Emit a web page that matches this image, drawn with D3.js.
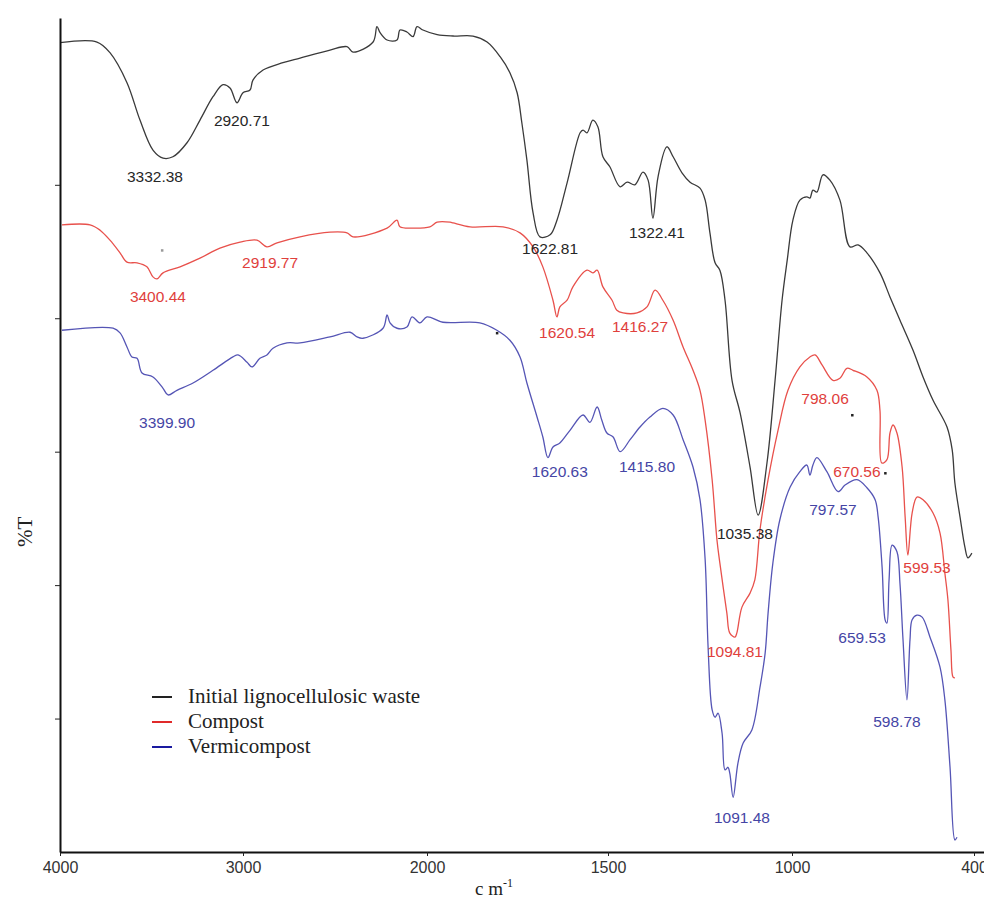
<!DOCTYPE html>
<html>
<head>
<meta charset="utf-8">
<script src="https://cdn.jsdelivr.net/npm/d3@7"></script>
<style>
  html, body { margin: 0; padding: 0; background: #fff; }
  svg { display: block; }
</style>
</head>
<body>
<svg id="chart" width="984" height="903"></svg>
<script>
// axis ticks (cm-1) as labelled on the original, not evenly spaced
var xTicks = [4000, 3000, 2000, 1500, 1000, 400];
var yTicks = [20, 40, 60, 80, 100];

// spectra: [wavenumber, %T]
var initialWaste = [
  [4000,121.3],[3798,121.4],[3727,119.8],[3634,115.3],[3563,109.7],[3492,105.2],[3437,104.0],[3383,104.2],
  [3306,106.3],[3235,109.7],[3164,113.2],[3109,115.0],[3071,114.5],[3033,112.3],[3000,113.8],[2962,114.2],
  [2946,115.7],[2891,117.2],[2783,118.3],[2690,119.0],[2527,120.2],[2435,120.7],[2402,119.9],[2293,121.4],
  [2272,123.7],[2255,122.8],[2217,121.7],[2163,121.7],[2147,123.2],[2109,122.9],[2076,122.2],[2054,123.7],
  [2022,123.2],[1972,122.5],[1928,122.3],[1873,122.3],[1834,121.4],[1798,119.2],[1771,116.8],[1751,113.8],
  [1738,109.3],[1724,103.7],[1707,95.8],[1688,92.2],[1660,92.5],[1641,94.7],[1613,100.3],[1577,107.8],
  [1569,108.2],[1558,107.8],[1542,109.7],[1528,108.7],[1514,104.2],[1495,102.7],[1467,99.7],[1448,100.4],
  [1427,100.0],[1405,101.9],[1391,100.7],[1378,95.0],[1364,101.2],[1340,105.7],[1323,104.2],[1299,101.8],
  [1277,100.4],[1250,99.5],[1236,97.7],[1223,92.8],[1209,88.3],[1196,87.2],[1182,82.7],[1163,70.7],
  [1141,65.8],[1114,57.7],[1092,50.5],[1068,58.3],[1046,70.7],[1027,82.7],[1013,88.7],[997,94.7],
  [974,97.7],[951,98.2],[941,98.0],[931,99.2],[918,98.9],[898,101.5],[875,100.7],[842,97.7],
  [809,90.7],[782,91.0],[753,89.8],[710,86.8],[677,83.2],[644,79.7],[601,75.2],[568,71.2],
  [535,67.7],[489,63.7],[472,60.3],[463,55.3],[446,50.2],[430,45.7],[420,44.1],[407,44.8]
];

var compost = [
  [3989,94.0],[3836,94.0],[3781,93.2],[3727,91.7],[3672,89.8],[3634,88.4],[3579,88.3],[3525,87.7],
  [3492,86.2],[3470,85.9],[3437,86.8],[3344,87.7],[3235,89.0],[3126,90.5],[3016,91.4],[2924,91.7],
  [2870,90.7],[2815,91.3],[2690,92.2],[2527,92.9],[2435,92.8],[2402,92.2],[2217,93.5],[2163,94.7],
  [2147,93.7],[2076,93.5],[1992,93.7],[1972,94.4],[1936,94.4],[1928,94.3],[1881,93.7],[1790,93.7],
  [1743,92.8],[1707,90.7],[1680,87.7],[1652,82.7],[1641,80.2],[1633,81.7],[1613,82.7],[1597,84.7],
  [1558,87.2],[1542,86.8],[1530,87.2],[1514,84.7],[1489,82.7],[1476,81.2],[1459,80.8],[1421,80.8],
  [1394,81.7],[1372,84.2],[1351,82.7],[1323,79.7],[1296,75.7],[1269,72.2],[1250,69.2],[1236,64.7],
  [1217,55.8],[1204,46.8],[1196,43.3],[1177,35.8],[1169,32.8],[1155,32.2],[1150,32.8],[1136,36.7],
  [1114,38.8],[1101,40.8],[1087,48.3],[1065,55.8],[1038,63.2],[1011,69.2],[974,72.7],[941,74.2],
  [924,74.5],[901,73.0],[865,70.7],[842,71.0],[819,72.5],[799,72.2],[753,71.2],[720,69.2],
  [710,66.2],[704,58.3],[687,58.8],[677,62.8],[667,64.0],[654,62.8],[637,57.7],[627,50.2],
  [618,44.5],[604,50.8],[588,53.2],[568,52.8],[535,50.8],[512,47.8],[496,41.8],[486,37.8],
  [476,30.3],[469,26.2],[463,26.1]
];

var vermicompost = [
  [3989,78.2],[3710,78.5],[3672,77.8],[3634,75.7],[3607,74.2],[3579,74.0],[3552,71.8],[3492,71.2],
  [3437,69.5],[3410,68.5],[3361,69.2],[3273,70.3],[3164,72.2],[3055,74.2],[3027,74.5],[2978,73.4],
  [2951,72.7],[2908,74.0],[2870,74.5],[2837,75.5],[2761,76.3],[2690,76.3],[2527,77.2],[2418,77.9],
  [2380,77.2],[2348,77.0],[2239,78.5],[2217,80.5],[2201,79.3],[2163,78.5],[2109,78.7],[2081,80.2],
  [2038,79.3],[2000,80.2],[1956,79.4],[1854,79.3],[1807,78.2],[1771,76.7],[1743,74.2],[1724,70.3],
  [1696,65.2],[1680,62.2],[1666,59.1],[1652,60.7],[1633,61.3],[1605,63.2],[1569,65.5],[1550,64.4],
  [1530,66.7],[1517,64.7],[1503,62.8],[1486,62.2],[1467,60.0],[1440,61.8],[1413,63.7],[1386,65.2],
  [1351,66.5],[1323,65.5],[1296,61.8],[1269,57.7],[1250,52.8],[1236,43.8],[1228,30.7],[1217,21.3],
  [1209,20.2],[1201,20.8],[1190,17.8],[1182,12.3],[1174,12.7],[1169,11.8],[1160,8.2],[1147,13.3],
  [1133,16.3],[1109,18.3],[1087,24.7],[1073,29.8],[1065,35.8],[1052,43.3],[1033,49.8],[1005,54.7],
  [974,57.0],[951,58.0],[941,56.5],[931,58.0],[918,59.1],[885,57.0],[848,54.0],[825,55.0],
  [786,55.8],[753,54.6],[726,52.8],[716,50.2],[703,42.7],[693,34.8],[687,34.3],[680,40.8],
  [670,46.0],[654,45.0],[644,40.2],[634,31.8],[621,22.8],[611,31.8],[604,34.8],[588,35.5],
  [571,35.2],[545,32.2],[512,27.7],[496,22.8],[479,12.7],[463,1.8],[456,2.2]
];

// peak annotations: text, [wavenumber, %T] of the label centre
var initialPeaks = [
  ["3332.38",3481,101.3],["2920.71",3006,109.7],["1622.81",1660,90.5],["1322.41",1367,92.9],["1035.38",1128,47.8]
];
var compostPeaks = [
  ["3400.44",3465,83.2],["2919.77",2853,88.3],["1620.54",1613,77.8],["1416.27",1413,78.7],
  ["798.06",891,68.0],["670.56",786,57.0],["599.53",555,42.7],["1094.81",1155,30.0]
];
var vermiPeaks = [
  ["3399.90",3415,64.3],["1620.63",1633,57.0],["1415.80",1394,57.7],["797.57",865,51.3],
  ["659.53",769,32.1],["598.78",654,19.5],["1091.48",1136,5.1]
];

// stray specks printed on the original
var specks = [[1807,77.8,"#222"],[802,65.5,"#222"],[693,56.8,"#222"],[3443,90.2,"#999"]];

var seriesNames = ["Initial lignocellulosic waste", "Compost", "Vermicompost"];

var svg = d3.select("#chart");

// piecewise x scale, the axis of the original is broken at 2000 and 1000
var x = d3.scaleLinear()
  .domain([4000, 3000, 2000, 1500, 1000, 400, 367])
  .range([60, 243, 427, 608, 792, 974, 984]);
var y = d3.scaleLinear().domain([0, 125]).range([852, 18]);

var series = [
  {data: initialWaste, peaks: initialPeaks, stroke: "#3a3a3a", text: "#262626", legend: "#222"},
  {data: compost, peaks: compostPeaks, stroke: "#e8514c", text: "#e0403c", legend: "#e02a2a"},
  {data: vermicompost, peaks: vermiPeaks, stroke: "#5555b5", text: "#4545a5", legend: "#1a1aa0"}
];

var line = d3.line()
  .x(d => x(d[0]))
  .y(d => y(d[1]))
  .curve(d3.curveCatmullRom.alpha(0.5));

svg.append("g").selectAll("path")
  .data(series)
  .enter().append("path")
  .attr("d", d => line(d.data))
  .attr("fill", "none")
  .attr("stroke", d => d.stroke)
  .attr("stroke-width", 1.3)
  .attr("stroke-linejoin", "round");

series.forEach(function(s) {
  svg.append("g").selectAll("text")
    .data(s.peaks)
    .enter().append("text")
    .attr("x", d => x(d[1]))
    .attr("y", d => y(d[2]))
    .attr("dy", "0.35em")
    .attr("text-anchor", "middle")
    .attr("font-family", "Liberation Sans, Arial, sans-serif")
    .attr("font-size", 15.5)
    .attr("fill", s.text)
    .text(d => d[0]);
});

svg.append("g").selectAll("rect")
  .data(specks)
  .enter().append("rect")
  .attr("x", d => x(d[0]) - 1)
  .attr("y", d => y(d[1]) - 1)
  .attr("width", 2.5)
  .attr("height", 2.5)
  .attr("fill", d => d[2]);

// axes
var xAxis = d3.axisBottom(x)
  .tickValues(xTicks)
  .tickSize(4)
  .tickSizeOuter(0)
  .tickFormat(d3.format("d"));

var gx = svg.append("g")
  .attr("transform", "translate(0," + y(0) + ")")
  .call(xAxis);
gx.select(".domain").attr("stroke", "#111").attr("stroke-width", 2);
gx.selectAll(".tick line").attr("stroke", "#222");
gx.selectAll(".tick text")
  .attr("font-family", "Liberation Sans, Arial, sans-serif")
  .attr("font-size", 16)
  .attr("fill", "#333")
  .attr("dy", "0.9em");

var yAxis = d3.axisLeft(y)
  .tickValues(yTicks)
  .tickSize(5)
  .tickSizeOuter(0)
  .tickFormat("");

var gy = svg.append("g")
  .attr("transform", "translate(" + x(4000) + ",0)")
  .call(yAxis);
gy.select(".domain").attr("stroke", "#111").attr("stroke-width", 2);
gy.selectAll(".tick line").attr("stroke", "#222");

// axis titles
svg.append("text")
  .attr("transform", "translate(25," + y(48) + ") rotate(-90)")
  .attr("text-anchor", "middle")
  .attr("dy", "0.35em")
  .attr("font-family", "Liberation Serif, Times New Roman, serif")
  .attr("font-size", 21)
  .attr("fill", "#222")
  .text("%T");

var xt = svg.append("text")
  .attr("x", x(1815))
  .attr("y", 895)
  .attr("text-anchor", "middle")
  .attr("font-family", "Liberation Serif, Times New Roman, serif")
  .attr("font-size", 19)
  .attr("fill", "#222");
xt.append("tspan").text("c m");
xt.append("tspan").attr("dy", -8).attr("font-size", 12).text("-1");

// legend
var legend = svg.append("g").attr("transform", "translate(152,697)");
var rows = legend.selectAll("g")
  .data(seriesNames)
  .enter().append("g")
  .attr("transform", (d, i) => "translate(0," + i * 25 + ")");
rows.append("line")
  .attr("x1", 0).attr("x2", 20)
  .attr("stroke", (d, i) => series[i].legend)
  .attr("stroke-width", 2);
rows.append("text")
  .attr("x", 36)
  .attr("dy", "0.3em")
  .attr("font-family", "Liberation Serif, Times New Roman, serif")
  .attr("font-size", 21)
  .attr("fill", "#222")
  .text(d => d);
</script>
</body>
</html>
